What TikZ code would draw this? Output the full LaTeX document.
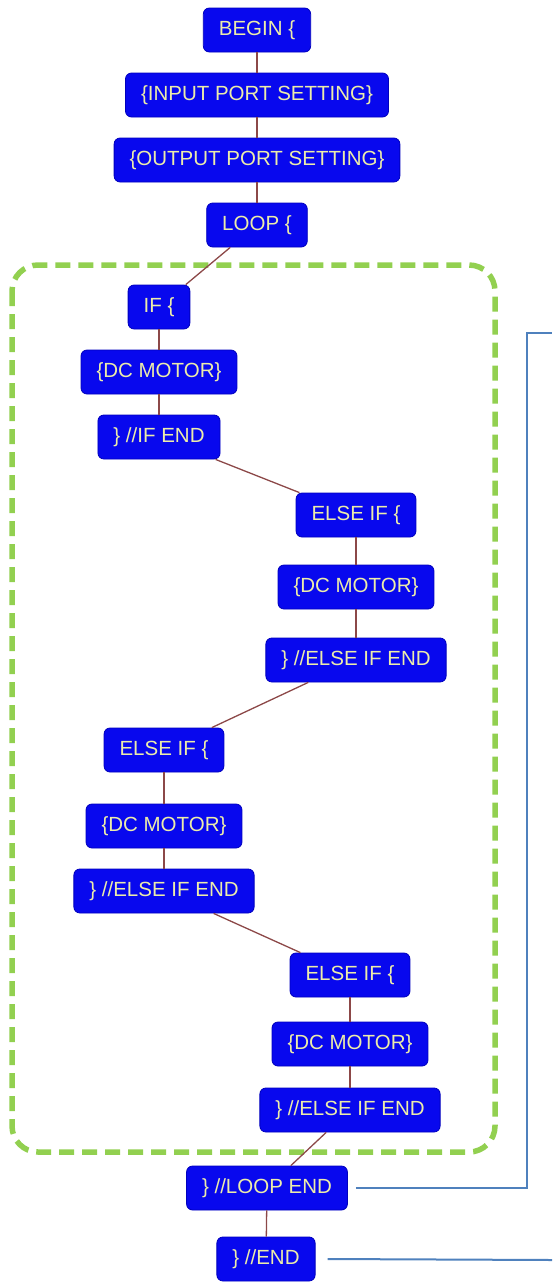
\documentclass[tikz,border=0pt]{standalone}
\usepackage{fontspec}
\setmainfont{Liberation Sans}
\definecolor{boxfill}{RGB}{8,8,238}
\definecolor{boxedge}{RGB}{0,0,190}
\definecolor{boxtext}{RGB}{236,236,170}
\definecolor{conn}{RGB}{140,72,72}
\definecolor{grp}{RGB}{146,208,80}
\definecolor{loopline}{RGB}{79,129,189}
\begin{document}
\begin{tikzpicture}[x=1pt,y=-1pt,
  blk/.style={draw=boxedge,line width=0.8pt,fill=boxfill,rounded corners=6pt,
    text=boxtext,font=\fontsize{20.5}{22}\selectfont,inner xsep=15.5pt,
    minimum height=44pt,anchor=center},
  link/.style={draw=conn,line width=1.3pt},
  grpbox/.style={draw=grp,line width=5.5pt,dash pattern=on 15pt off 8pt,rounded corners=26pt},
  ret/.style={draw=loopline,line width=2pt}]
\useasboundingbox (0,0) rectangle (552,1283);
\draw[grpbox] (12,265) rectangle (495,1152);
\node[blk] (begin) at (257,30) {BEGIN \{};
\node[blk] (inp) at (257,95) {\{INPUT PORT SETTING\}};
\node[blk] (outp) at (257,160) {\{OUTPUT PORT SETTING\}};
\node[blk] (loop) at (257,225) {LOOP \{};
\node[blk] (if) at (159,307) {IF \{};
\node[blk] (dc1) at (159,372) {\{DC MOTOR\}};
\node[blk] (ifend) at (159,437) {\} //IF END};
\node[blk] (ei1) at (356,515) {ELSE IF \{};
\node[blk] (dc2) at (356,587) {\{DC MOTOR\}};
\node[blk] (eie1) at (356,660) {\} //ELSE IF END};
\node[blk] (ei2) at (164,750) {ELSE IF \{};
\node[blk] (dc3) at (164,826) {\{DC MOTOR\}};
\node[blk] (eie2) at (164,891) {\} //ELSE IF END};
\node[blk] (ei3) at (350,975) {ELSE IF \{};
\node[blk] (dc4) at (350,1044) {\{DC MOTOR\}};
\node[blk] (eie3) at (350,1110) {\} //ELSE IF END};
\node[blk] (loopend) at (267,1188) {\} //LOOP END};
\node[blk] (theend) at (266,1259) {\} //END};
\draw[link] (begin) -- (inp);
\draw[link] (inp) -- (outp);
\draw[link] (outp) -- (loop);
\draw[link] (loop) -- (if);
\draw[link] (if) -- (dc1);
\draw[link] (dc1) -- (ifend);
\draw[link] (ifend) -- (ei1);
\draw[link] (ei1) -- (dc2);
\draw[link] (dc2) -- (eie1);
\draw[link] (eie1) -- (ei2);
\draw[link] (ei2) -- (dc3);
\draw[link] (dc3) -- (eie2);
\draw[link] (eie2) -- (ei3);
\draw[link] (ei3) -- (dc4);
\draw[link] (dc4) -- (eie3);
\draw[link] (eie3) -- (loopend);
\draw[link] (loopend) -- (theend);
\coordinate (rtop) at (552,333);
\coordinate (rend) at (552,1260);
\draw[ret] ([xshift=8pt]loopend.east) -- (527,1188) -- (527,333) -- (rtop);
\draw[ret] ([xshift=12pt]theend.east) -- (rend);
\end{tikzpicture}
\end{document}
